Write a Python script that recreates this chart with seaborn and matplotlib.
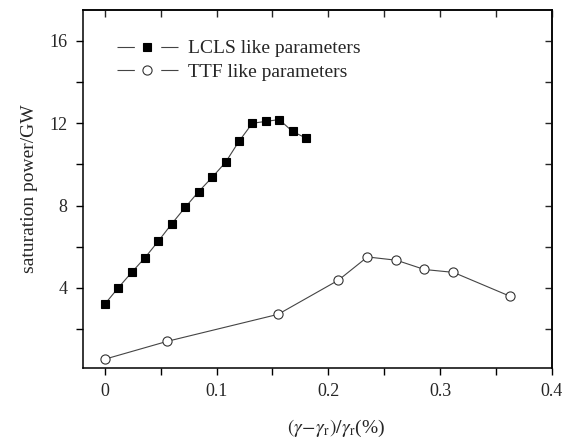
import matplotlib
matplotlib.use("Agg")
import matplotlib.pyplot as plt
import seaborn as sns
import pandas as pd
from matplotlib.ticker import MultipleLocator
from matplotlib.lines import Line2D

lcls_x = [0.0, 0.012, 0.024, 0.036, 0.048, 0.060, 0.072, 0.084, 0.096, 0.108,
          0.120, 0.132, 0.144, 0.156, 0.168, 0.180]
lcls_y = [3.21, 4.00, 4.75, 5.47, 6.28, 7.12, 7.92, 8.68, 9.37, 10.10,
          11.12, 12.00, 12.09, 12.18, 11.60, 11.28]
ttf_x = [0.0, 0.056, 0.155, 0.209, 0.235, 0.261, 0.286, 0.312, 0.363]
ttf_y = [0.53, 1.40, 2.71, 4.37, 5.50, 5.34, 4.89, 4.75, 3.58]
series_names = ["LCLS like parameters", "TTF like parameters"]
x_ticks = [0, 0.1, 0.2, 0.3, 0.4]
x_tick_labels = ["0", "0.1", "0.2", "0.3", "0.4"]
y_ticks = [4, 8, 12, 16]

sns.set_theme(style="ticks")
plt.rcParams['font.family'] = ['Liberation Serif', 'DejaVu Serif']
plt.rcParams['mathtext.fontset'] = 'stix'

df_l = pd.DataFrame({"x": lcls_x, "y": lcls_y})
df_t = pd.DataFrame({"x": ttf_x, "y": ttf_y})

fig = plt.figure(figsize=(5.73, 4.41), dpi=100)
ax = fig.add_axes([0.144, 0.1655, 0.819, 0.8115])

line_color = "#444444"
lw = 0.8
sq_kw = dict(marker="s", markersize=5.6, markerfacecolor="black",
             markeredgecolor="black", markeredgewidth=0.8)
ci_kw = dict(marker="o", markersize=6.6, markerfacecolor="white",
             markeredgecolor="#333333", markeredgewidth=0.8)

sns.lineplot(data=df_l, x="x", y="y", ax=ax, color=line_color, lw=lw,
             legend=False, **sq_kw)
sns.lineplot(data=df_t, x="x", y="y", ax=ax, color=line_color, lw=lw,
             legend=False, **ci_kw)

ax.set_xlim(-0.02, 0.4)
ax.set_ylim(0.1, 17.5)
ax.set_xticks(x_ticks)
ax.set_xticklabels(x_tick_labels)
ax.set_yticks(y_ticks)
ax.xaxis.set_minor_locator(MultipleLocator(0.05))
ax.yaxis.set_minor_locator(MultipleLocator(2))

ax.tick_params(axis='both', which='both', direction='out', labelsize=13,
               color='black', width=1, length=5, pad=6)
for sp in ax.spines.values():
    sp.set_linewidth(1.1)
    sp.set_color('black')

# mirrored top/right ticks pointing inward
secx = ax.secondary_xaxis('top')
secx.set_xticks([0, 0.05, 0.1, 0.15, 0.2, 0.25, 0.3, 0.35, 0.4])
secx.tick_params(direction='in', length=5, width=1, labeltop=False)
secx.set_xticklabels([])
secy = ax.secondary_yaxis('right')
secy.set_yticks([2, 4, 6, 8, 10, 12, 14, 16])
secy.tick_params(direction='in', length=5, width=1, labelright=False)
secy.set_yticklabels([])

ax.set_ylabel("saturation power/GW", fontsize=14, labelpad=8)
ax.set_xlabel(r"$(\gamma\!-\!\gamma_{\mathrm{r}})/\gamma_{\mathrm{r}}$(%)",
              fontsize=14, labelpad=12)
ax.xaxis.set_label_coords(0.54, -0.14)

# legend handles: line - marker - line with gaps around marker
seg, gap = 12.5 / lw, 19.0 / lw
h1 = Line2D([], [], color=line_color, lw=lw, dashes=(seg, gap), **sq_kw)
h2 = Line2D([], [], color=line_color, lw=lw, dashes=(seg, gap), **ci_kw)
leg = ax.legend(handles=[h1, h2], labels=series_names, loc='upper left',
                bbox_to_anchor=(0.045, 0.955), frameon=False,
                fontsize=14, handlelength=3.1, handletextpad=0.55,
                labelspacing=0.3, borderaxespad=0.3, numpoints=1)

fig.savefig("out.png", dpi=100)
